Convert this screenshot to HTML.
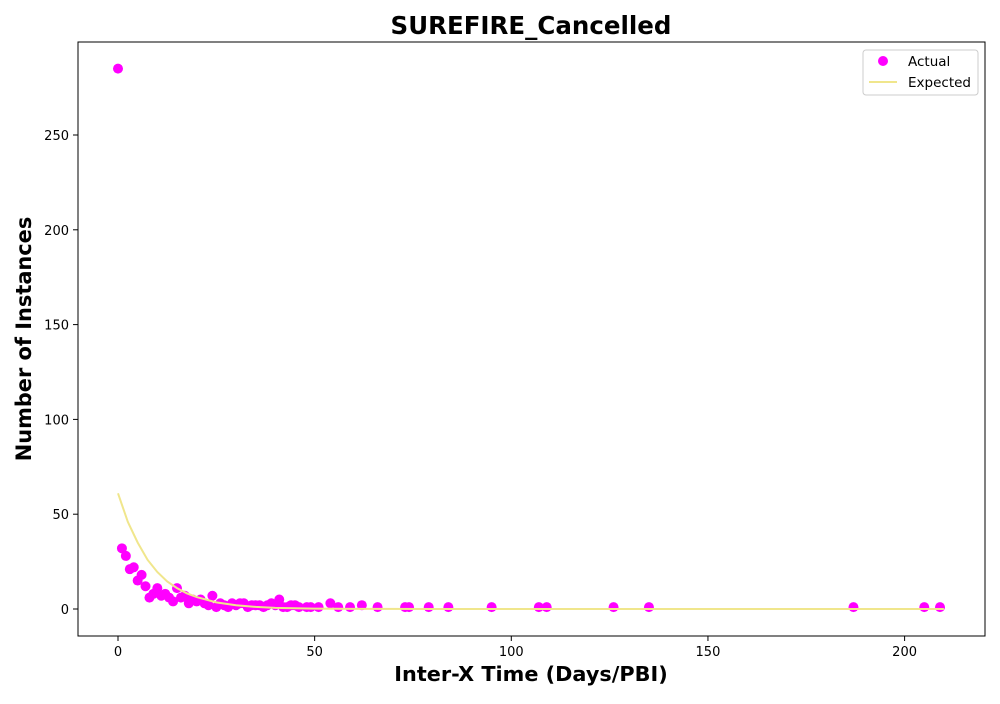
<!DOCTYPE html>
<html><head><meta charset="utf-8"><style>
body{margin:0;background:#fff;font-family:"DejaVu Sans","Liberation Sans",sans-serif}
</style></head><body>
<svg id="chart" width="1000" height="700" xmlns="http://www.w3.org/2000/svg" font-family="DejaVu Sans, Liberation Sans, sans-serif">
<rect width="1000" height="700" fill="#fff"/>
<text x="531" y="34" text-anchor="middle" font-size="24.5" font-weight="bold">SUREFIRE_Cancelled</text>
<g id="marks"></g>
<rect x="78" y="42" width="907" height="594" fill="none" stroke="#000" stroke-width="1"/>
<g id="axes" font-size="13"></g>
<text x="531" y="681" text-anchor="middle" font-size="20.8" font-weight="bold">Inter-X Time (Days/PBI)</text>
<text transform="translate(31,339) rotate(-90)" text-anchor="middle" font-size="20.9" font-weight="bold">Number of Instances</text>
<g>
<rect x="863" y="50" width="115" height="45" rx="3" fill="#fff" stroke="#ccc"/>
<circle cx="883" cy="61" r="5" fill="#ff00ff"/>
<text x="908" y="66" font-size="13.5">Actual</text>
<line x1="869" y1="82" x2="897" y2="82" stroke="#f0e68c" stroke-width="2"/>
<text x="908" y="87" font-size="13.5">Expected</text>
</g>
</svg>
<script>
const actualX=[0,1,2,3,4,5,6,7,8,9,10,11,12,13,14,15,16,17,18,19,20,21,22,23,24,25,26,27,28,29,30,31,32,33,34,35,36,37,38,39,40,41,42,43,44,45,46,48,49,51,54,56,59,62,66,73,74,79,84,95,107,109,126,135,187,205,209];
const actualY=[285,32,28,21,22,15,18,12,6,8,11,7,8,6,4,11,6,7,3,5,4,5,3,2,7,1,3,2,1,3,2,3,3,1,2,2,2,1,2,3,2,5,1,1,2,2,1,1,1,1,3,1,1,2,1,1,1,1,1,1,1,1,1,1,1,1,1];
const expectedX=[0,2.5,5,7.5,10,12.5,15,17.5,20,25,30,35,40,50,60,80,210];
const expectedY=[61,46,35,26,19.5,14.5,11,8.3,6.3,3.5,2,1.1,0.6,0.2,0.05,0,0];
const xTicks=[0,50,100,150,200];
const yTicks=[0,50,100,150,200,250];
const NS="http://www.w3.org/2000/svg";
const xs=v=>118+v*3.933;
const ys=v=>609-v*1.896;
const marks=document.getElementById('marks');
const axes=document.getElementById('axes');
let d='';
expectedX.forEach((x,i)=>{d+=(i?'L':'M')+xs(x).toFixed(1)+','+ys(expectedY[i]).toFixed(1);});
const path=document.createElementNS(NS,'path');
path.setAttribute('d',d);path.setAttribute('fill','none');path.setAttribute('stroke','#f0e68c');path.setAttribute('stroke-width','2');


marks.appendChild(path);
actualX.forEach((x,i)=>{
const c=document.createElementNS(NS,'circle');
c.setAttribute('cx',xs(x));c.setAttribute('cy',ys(actualY[i]));c.setAttribute('r',5);c.setAttribute('fill','#ff00ff');


marks.insertBefore(c,path);
});
xTicks.forEach(t=>{
const l=document.createElementNS(NS,'line');
l.setAttribute('x1',xs(t));l.setAttribute('x2',xs(t));l.setAttribute('y1',636);l.setAttribute('y2',641);l.setAttribute('stroke','#000');


axes.appendChild(l);
const tx=document.createElementNS(NS,'text');
tx.setAttribute('x',xs(t));tx.setAttribute('y',656);tx.setAttribute('text-anchor','middle');tx.textContent=t;


axes.appendChild(tx);
});
yTicks.forEach(t=>{
const l=document.createElementNS(NS,'line');
l.setAttribute('x1',73);l.setAttribute('x2',78);l.setAttribute('y1',ys(t));l.setAttribute('y2',ys(t));l.setAttribute('stroke','#000');


axes.appendChild(l);
const tx=document.createElementNS(NS,'text');
tx.setAttribute('x',69);tx.setAttribute('y',ys(t)+5);tx.setAttribute('text-anchor','end');tx.textContent=t;


axes.appendChild(tx);
});
</script>
</body></html>
